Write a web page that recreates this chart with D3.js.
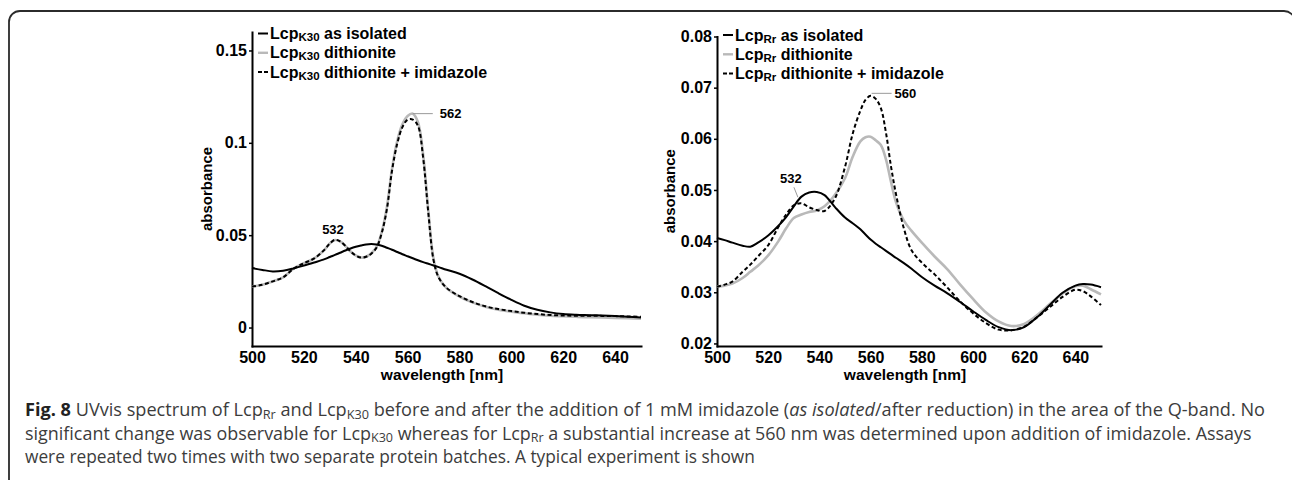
<!DOCTYPE html>
<html>
<head>
<meta charset="utf-8">
<script src="https://cdnjs.cloudflare.com/ajax/libs/d3/7.8.5/d3.min.js"></script>
<style>
body { margin: 0; background: #fff; }
svg { display: block; }
.axis text { font-family: "Liberation Sans", Arial, sans-serif; font-weight: bold; font-size: 16px; fill: #000; }
.axis path { stroke: #000; stroke-width: 2; }
.axis line { stroke: #000; stroke-width: 1.5; }
.lbl { font-family: "Liberation Sans", Arial, sans-serif; font-weight: bold; fill: #000; }
.caption { font-family: "Open Sans", "Noto Sans", sans-serif; fill: #3c3c3c; }
</style>
</head>
<body>
<div id="chart"></div>
<script>

// ---------- data ----------
var xTicks = [500, 520, 540, 560, 580, 600, 620, 640];
var k30Ticks = [0, 0.05, 0.1, 0.15];
var rrTicks = [0.02, 0.03, 0.04, 0.05, 0.06, 0.07, 0.08];

// Lcp K30 (left panel)
var k30Nm = [500, 504, 508, 512, 516, 520, 524, 528, 530, 532, 534, 536, 538, 540, 542, 544, 546, 548, 550, 552, 554, 556, 558, 560, 562, 564, 566, 568, 570, 572, 575, 580, 585, 590, 595, 600, 605, 610, 615, 620, 625, 630, 635, 640, 645, 650];
var k30Isolated = [0.0322, 0.0312, 0.0304, 0.0308, 0.0320, 0.0335, 0.0352, 0.0370, 0.0382, 0.0393, 0.0405, 0.0417, 0.0428, 0.0437, 0.0444, 0.0450, 0.0452, 0.0450, 0.0443, 0.0432, 0.0421, 0.0409, 0.0397, 0.0386, 0.0375, 0.0364, 0.0354, 0.0345, 0.0336, 0.0327, 0.0313, 0.0291, 0.0260, 0.0224, 0.0186, 0.0150, 0.0118, 0.0096, 0.0082, 0.0073, 0.0069, 0.0067, 0.0065, 0.0062, 0.0058, 0.0054];
var k30Dithionite = [0.0222, 0.0232, 0.0250, 0.0272, 0.0318, 0.0348, 0.0374, 0.0422, 0.0455, 0.0474, 0.0466, 0.0442, 0.0412, 0.0390, 0.0379, 0.0383, 0.0402, 0.0435, 0.0515, 0.0650, 0.0860, 0.1010, 0.1100, 0.1145, 0.1158, 0.1112, 0.0935, 0.0630, 0.0372, 0.0272, 0.0214, 0.0168, 0.0136, 0.0113, 0.0097, 0.0086, 0.0077, 0.0069, 0.0064, 0.0061, 0.0058, 0.0056, 0.0054, 0.0052, 0.0050, 0.0048];
var k30Imidazole = [0.0222, 0.0232, 0.0250, 0.0272, 0.0318, 0.0348, 0.0374, 0.0422, 0.0455, 0.0475, 0.0466, 0.0442, 0.0412, 0.0390, 0.0379, 0.0383, 0.0400, 0.0432, 0.0510, 0.0640, 0.0850, 0.0995, 0.1085, 0.1125, 0.1126, 0.1092, 0.0918, 0.0620, 0.0365, 0.0270, 0.0215, 0.0170, 0.0138, 0.0115, 0.0100, 0.0089, 0.0080, 0.0073, 0.0068, 0.0065, 0.0064, 0.0064, 0.0063, 0.0062, 0.0060, 0.0058];

// Lcp Rr (right panel)
var rrNm = [500, 503, 506, 510, 513, 516, 520, 524, 527, 530, 533, 536, 539, 542, 546, 550, 553, 556, 558, 560, 562, 564, 566, 568, 570, 573, 576, 580, 585, 590, 595, 600, 605, 610, 615, 620, 625, 630, 635, 640, 643, 646, 650];
var rrIsolated = [0.0406, 0.0402, 0.0397, 0.0391, 0.0389, 0.0397, 0.0411, 0.0430, 0.0447, 0.0468, 0.0487, 0.0495, 0.0496, 0.0490, 0.0467, 0.0446, 0.0435, 0.0423, 0.0413, 0.0403, 0.0395, 0.0388, 0.0381, 0.0374, 0.0367, 0.0357, 0.0346, 0.0330, 0.0313, 0.0298, 0.0281, 0.0263, 0.0246, 0.0232, 0.0226, 0.0232, 0.0251, 0.0275, 0.0299, 0.0313, 0.0316, 0.0315, 0.0310];
var rrDithionite = [0.0311, 0.0313, 0.0317, 0.0328, 0.0340, 0.0352, 0.0372, 0.0400, 0.0425, 0.0445, 0.0452, 0.0457, 0.0460, 0.0468, 0.0490, 0.0523, 0.0565, 0.0595, 0.0603, 0.0604, 0.0597, 0.0588, 0.0560, 0.0515, 0.0475, 0.0440, 0.0420, 0.0397, 0.0370, 0.0345, 0.0315, 0.0287, 0.0261, 0.0243, 0.0234, 0.0238, 0.0255, 0.0277, 0.0298, 0.0312, 0.0313, 0.0306, 0.0296];
var rrImidazole = [0.0311, 0.0315, 0.0321, 0.0340, 0.0354, 0.0370, 0.0392, 0.0428, 0.0452, 0.0470, 0.0474, 0.0466, 0.0461, 0.0459, 0.0483, 0.0545, 0.0610, 0.0655, 0.0676, 0.0684, 0.0678, 0.0660, 0.0612, 0.0545, 0.0490, 0.0425, 0.0382, 0.0358, 0.0335, 0.0309, 0.0282, 0.0259, 0.0240, 0.0227, 0.0226, 0.0233, 0.0251, 0.0271, 0.0291, 0.0305, 0.0302, 0.0292, 0.0275];

var seriesNames = ["as isolated", "dithionite", "dithionite + imidazole"];

// ---------- layout ----------
var svgWidth = 1292;
var svgHeight = 480;
var axisY = 346;

var svg = d3.select("#chart")
  .append("svg")
  .attr("width", svgWidth)
  .attr("height", svgHeight);

// figure frame (only top + left edge visible)
svg.append("rect")
  .attr("x", 9).attr("y", 11)
  .attr("width", 1286).attr("height", 520)
  .attr("rx", 11)
  .attr("fill", "none")
  .attr("stroke", "#2b2b2b")
  .attr("stroke-width", 1.8);

var styles = [
  { stroke: "#000", width: 2, dash: null },
  { stroke: "#b9b9b9", width: 2.6, dash: null },
  { stroke: "#000", width: 2, dash: "4,2.6" }
];

var panels = [
  {
    sub: "K30", nm: k30Nm, series: [k30Isolated, k30Dithionite, k30Imidazole],
    xRange: [252, 641], yDomain: [-0.01, 0.16], yTop: 32, yTicks: k30Ticks,
    legendX: 258, legendY: 33.5, yTitleX: 212, xTitleX: 442,
    order: [1, 0, 2]
  },
  {
    sub: "Rr", nm: rrNm, series: [rrIsolated, rrDithionite, rrImidazole],
    xRange: [717, 1101], yDomain: [0.0195, 0.08], yTop: 36.5, yTicks: rrTicks,
    legendX: 723, legendY: 35, yTitleX: 675, xTitleX: 905,
    order: [1, 2, 0]
  }
];

var fmt = function(d) { return d === 0 ? "0" : String(d); };

panels.forEach(function(p, pi) {
  var g = svg.append("g");

  // Step 1: scales
  var xScale = d3.scaleLinear().domain([500, 650]).range(p.xRange);
  var yScale = d3.scaleLinear().domain(p.yDomain).range([axisY, p.yTop]);

  // Step 2: axes
  g.append("g")
    .attr("class", "axis")
    .attr("transform", `translate(0, ${axisY})`)
    .call(d3.axisBottom(xScale).tickValues(xTicks).tickSizeInner(0).tickSizeOuter(0).tickPadding(5.5));

  g.append("g")
    .attr("class", "axis")
    .attr("transform", `translate(${p.xRange[0]}, 0)`)
    .call(d3.axisLeft(yScale).tickValues(p.yTicks).tickFormat(fmt).tickSizeInner(3).tickSizeOuter(0).tickPadding(2));

  g.selectAll(".axis .domain").attr("stroke-linecap", "square");

  // Step 3: spectra
  var line = d3.line()
    .curve(d3.curveCatmullRom.alpha(0.5))
    .x(function(d, i) { return xScale(p.nm[i]); })
    .y(function(d) { return yScale(d); });

  p.order.forEach(function(si) {
    g.append("path")
      .datum(p.series[si])
      .attr("d", line)
      .attr("fill", "none")
      .attr("stroke", styles[si].stroke)
      .attr("stroke-width", styles[si].width)
      .attr("stroke-dasharray", styles[si].dash)
      .attr("stroke-linejoin", "round");
  });

  // Step 4: legend
  seriesNames.forEach(function(name, i) {
    var ly = p.legendY + i * 19.3;
    g.append("line")
      .attr("x1", p.legendX).attr("x2", p.legendX + 10)
      .attr("y1", ly).attr("y2", ly)
      .attr("stroke", styles[i].stroke)
      .attr("stroke-width", i === 1 ? 2.4 : 2)
      .attr("stroke-dasharray", i === 2 ? "4,2" : null);
    var t = g.append("text")
      .attr("class", "lbl")
      .attr("x", p.legendX + 12)
      .attr("y", ly + 5.5)
      .attr("font-size", "16px");
    t.append("tspan").text("Lcp");
    t.append("tspan").attr("font-size", "11.5px").attr("baseline-shift", "-1.5").text(p.sub);
    t.append("tspan").text(" " + name);
  });

  // Step 5: axis titles
  g.append("text")
    .attr("class", "lbl")
    .attr("font-size", "15px")
    .attr("text-anchor", "middle")
    .attr("transform", `translate(${p.yTitleX}, ${(axisY + p.yTop) / 2}) rotate(-90)`)
    .text("absorbance");

  g.append("text")
    .attr("class", "lbl")
    .attr("font-size", "15.5px")
    .attr("text-anchor", "middle")
    .attr("x", p.xTitleX)
    .attr("y", 380)
    .text("wavelength [nm]");

  // Step 6: peak annotations
  if (pi === 0) {
    var px = xScale(562), py = yScale(0.1158);
    g.append("line").attr("x1", px).attr("x2", px + 20).attr("y1", py).attr("y2", py)
      .attr("stroke", "#9a9a9a").attr("stroke-width", 1);
    g.append("text").attr("class", "lbl").attr("font-size", "13px")
      .attr("x", px + 27).attr("y", py + 4.5).text("562");
    g.append("text").attr("class", "lbl").attr("font-size", "13px")
      .attr("text-anchor", "middle")
      .attr("x", xScale(532) - 2).attr("y", yScale(0.0475) - 6).text("532");
  } else {
    var qx = xScale(560), qy = yScale(0.0684) - 2.5;
    g.append("line").attr("x1", qx + 1).attr("x2", qx + 21).attr("y1", qy).attr("y2", qy)
      .attr("stroke", "#9a9a9a").attr("stroke-width", 1);
    g.append("text").attr("class", "lbl").attr("font-size", "13px")
      .attr("x", qx + 24).attr("y", qy + 4.5).text("560");
    var rx = xScale(532), ry = yScale(0.0474);
    g.append("line").attr("x1", rx - 1).attr("x2", rx - 5).attr("y1", ry - 6).attr("y2", ry - 16)
      .attr("stroke", "#9a9a9a").attr("stroke-width", 1);
    g.append("text").attr("class", "lbl").attr("font-size", "13px")
      .attr("text-anchor", "middle")
      .attr("x", rx - 8).attr("y", ry - 20).text("532");
  }
});

// ---------- caption ----------
var captionLines = [
  [["b", "Fig. 8"], ["n", " UVvis spectrum of Lcp"], ["s", "Rr"], ["n", " and Lcp"], ["s", "K30"], ["n", " before and after the addition of 1 mM imidazole ("], ["i", "as isolated"], ["n", "/after reduction) in the area of the Q-band. No"]],
  [["n", "significant change was observable for Lcp"], ["s", "K30"], ["n", " whereas for Lcp"], ["s", "Rr"], ["n", " a substantial increase at 560 nm was determined upon addition of imidazole. Assays"]],
  [["n", "were repeated two times with two separate protein batches. A typical experiment is shown"]]
];
var captionBase = [416, 439.5, 463];
var captionWidth = [1240, 1227, 730];

var capTexts = captionLines.map(function(parts, li) {
  var grp = svg.append("g").attr("transform", `translate(25, ${captionBase[li]})`);
  var t = grp.append("text").attr("class", "caption").attr("font-size", "16px");
  parts.forEach(function(pt) {
    var s = t.append("tspan").text(pt[1]);
    if (pt[0] === "b") s.attr("font-weight", "bold").attr("fill", "#222");
    if (pt[0] === "i") s.attr("font-style", "italic");
    if (pt[0] === "s") s.classed("sub", true).attr("baseline-shift", "-3");
  });
  return { grp: grp, t: t };
});

// fit font size from the natural last line, then stretch the full lines to the measure
var w3 = capTexts[2].t.node().getComputedTextLength();
var fs = 16 * captionWidth[2] / w3;
capTexts.forEach(function(c) {
  c.t.attr("font-size", fs + "px");
  c.t.selectAll("tspan.sub").attr("font-size", (fs * 0.7) + "px");
});
capTexts.forEach(function(c, li) {
  var w = c.t.node().getComputedTextLength();
  var k = captionWidth[li] / w;
  c.grp.attr("transform", `translate(25, ${captionBase[li]}) scale(${k}, 1)`);
});

</script>
</body>
</html>
